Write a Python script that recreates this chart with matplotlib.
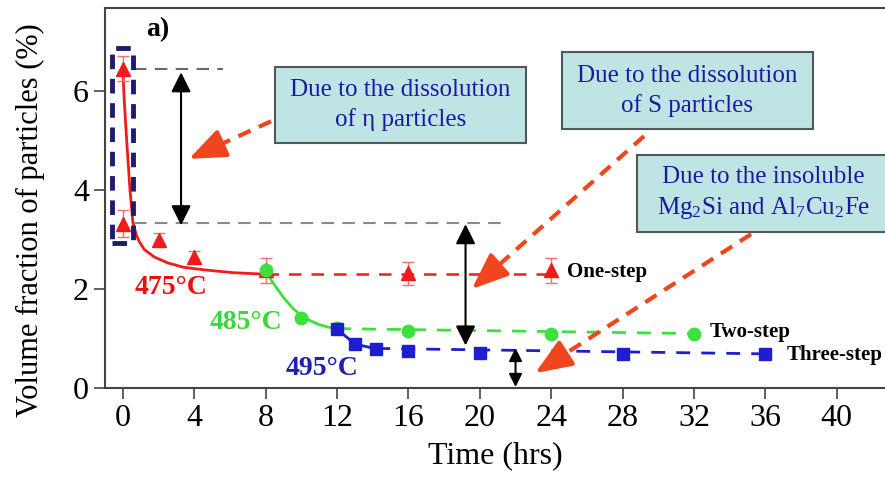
import matplotlib
matplotlib.use('Agg')
import matplotlib.pyplot as plt
from matplotlib.patches import Rectangle

plt.rcParams['font.family'] = ['Liberation Serif', 'DejaVu Serif']
plt.rcParams['mathtext.fontset'] = 'custom'
plt.rcParams['mathtext.rm'] = 'Liberation Serif'
plt.rcParams['mathtext.it'] = 'Liberation Serif:italic'

# measured points (one-step 475C, two-step 485C, three-step 495C)
red_t = [0, 0, 2, 4, 8, 16, 24]
red_y = [6.45, 3.32, 3.0, 2.65, 2.38, 2.32, 2.38]
red_err = [0.25, 0.27, 0.13, 0.12, 0.25, 0.23, 0.25]

green_t = [8, 10, 12, 16, 24, 32]
green_y = [2.38, 1.42, 1.21, 1.16, 1.09, 1.09]

blue_t = [12, 13, 14.2, 16, 20, 28, 36]
blue_y = [1.19, 0.89, 0.79, 0.75, 0.70, 0.69, 0.69]

# fitted curves
red_fit_t = [0, 0.08, 0.18, 0.28, 0.4, 0.56, 0.75, 0.9, 1.2, 1.75, 2.5, 3.4, 4.5, 6.2, 8.0]
red_fit_y = [6.45, 5.8, 5.2, 4.65, 4.0, 3.35, 3.1, 2.97, 2.8, 2.65, 2.53, 2.44, 2.39, 2.33, 2.3]
green_fit_t = [8, 8.5, 9, 9.5, 10, 10.5, 11, 11.5, 12]
green_fit_y = [2.36, 2.08, 1.83, 1.62, 1.46, 1.36, 1.28, 1.23, 1.2]
blue_fit_t = [12, 13, 14.2]
blue_fit_y = [1.19, 0.89, 0.79]

red_dash_t = [8, 24]
red_dash_y = [2.3, 2.3]
green_dash_t = [12, 32]
green_dash_y = [1.2, 1.1]
blue_dash_t = [14.2, 36]
blue_dash_y = [0.80, 0.69]

xticks = [0, 4, 8, 12, 16, 20, 24, 28, 32, 36, 40]
yticks = [0, 2, 4, 6]

RED = '#f01c1c'
GREEN = '#3ee03e'
BLUE = '#1e1ed0'
ORANGE = '#f0461e'
BOXC = '#bfe4e4'
TXTB = '#1a1aa0'

fig = plt.figure(figsize=(8.85, 4.91), dpi=100)
ax = fig.add_axes([105/885, 103/491, 780/885, 380/491])

# fits
ax.plot(red_fit_t, red_fit_y, '-', color=RED, lw=2)
ax.plot(green_fit_t, green_fit_y, '-', color=GREEN, lw=2)
ax.plot(blue_fit_t, blue_fit_y, '-', color=BLUE, lw=2)
ax.plot(red_dash_t, red_dash_y, '--', color=RED, lw=1.8, dashes=(5, 4))
ax.plot(green_dash_t, green_dash_y, '--', color=GREEN, lw=2, dashes=(5, 4))
ax.plot(blue_dash_t, blue_dash_y, '--', color=BLUE, lw=2, dashes=(5, 4))

# markers
ax.errorbar(red_t, red_y, yerr=red_err, fmt='^', color=RED, ms=10, capsize=4,
            elinewidth=1, ecolor='#f07070', zorder=4)
ax.plot(green_t, green_y, 'o', color=GREEN, ms=9, zorder=5)
ax.plot(blue_t, blue_y, 's', color=BLUE, ms=9, zorder=6)

# guide lines and box around t=0 points
ax.plot([0.6, 5.6], [6.45, 6.45], '--', color='#6a6a6a', lw=1.5, dashes=(6, 4))
ax.plot([0.6, 21.6], [3.33, 3.33], '--', color='#8a8a8a', lw=1.5, dashes=(6, 4))
ax.add_patch(Rectangle((-0.58, 2.93), 1.15, 3.94, fill=False, edgecolor='#1c1c70',
                       lw=3.5, linestyle=(0, (3, 2)), zorder=7))

# black double arrows
dbl = dict(arrowstyle='<|-|>,head_length=0.6,head_width=0.3', color='black', lw=1.5,
           mutation_scale=20, shrinkA=0, shrinkB=0)
ax.annotate('', xy=(3.26, 6.38), xytext=(3.26, 3.29), arrowprops=dbl)
ax.annotate('', xy=(19.2, 3.31), xytext=(19.2, 0.86), arrowprops=dbl)
small = dict(dbl, mutation_scale=13)
ax.annotate('', xy=(22.0, 0.81), xytext=(22.0, 0.02), arrowprops=small)

# info boxes
boxes = [((8.5, 4.95), 14.1, 1.53, 'Due to the dissolution\nof \u03b7 particles'),
         ((24.6, 5.23), 14.05, 1.56, 'Due to the dissolution\nof S particles'),
         ((28.8, 3.15), 14.2, 1.56, 'Due to the insoluble\nMg$_2$Si and Al$_7$Cu$_2$Fe')]
for (x0, y0), w, h, txt in boxes:
    ax.add_patch(Rectangle((x0, y0), w, h, facecolor=BOXC, edgecolor='#505858', lw=1.5, zorder=8))
    ax.text(x0 + w / 2, y0 + h / 2, txt, ha='center', va='center', fontsize=18,
            color=TXTB, linespacing=1.4, zorder=9)

# dashed orange arrows: dashed shaft + solid head
orange_arrows = [((8.3, 5.39), (3.7, 4.63)),
                 ((29.2, 5.09), (19.55, 2.0)),
                 ((35.2, 3.11), (23.1, 0.3))]
head = dict(arrowstyle='-|>,head_length=0.8,head_width=0.32', color=ORANGE, lw=3,
            mutation_scale=28, shrinkA=0, shrinkB=0)
for (x0, y0), (x1, y1) in orange_arrows:
    f = 0.88 if abs(x1 - x0) > 6 else 0.75
    xm, ym = x0 + f * (x1 - x0), y0 + f * (y1 - y0)
    ax.plot([x0, xm], [y0, ym], color=ORANGE, lw=3, dashes=(3.2, 2.2), zorder=10,
            solid_capstyle='butt', dash_capstyle='butt')
    ax.annotate('', xy=(x1, y1), xytext=(xm, ym), arrowprops=head, zorder=10)

# labels
ax.text(1.95, 7.25, 'a)', fontsize=20, fontweight='bold', ha='center', va='center')
ax.text(2.7, 2.04, '475\u00b0C', color='#e81010', fontsize=20, fontweight='bold', ha='center', va='center')
ax.text(6.9, 1.33, '485\u00b0C', color='#38d838', fontsize=20, fontweight='bold', ha='center', va='center')
ax.text(11.15, 0.4, '495\u00b0C', color='#2020b0', fontsize=20, fontweight='bold', ha='center', va='center')
ax.text(24.9, 2.34, 'One-step', fontsize=15, fontweight='bold', va='center')
ax.text(32.9, 1.13, 'Two-step', fontsize=15, fontweight='bold', va='center')
ax.text(37.2, 0.67, 'Three-step', fontsize=15, fontweight='bold', va='center')

ax.set_xlim(-1.0, 42.7)
ax.set_ylim(0, 7.68)
ax.set_xticks(xticks)
ax.set_yticks(yticks)
ax.tick_params(direction='out', length=8, width=1.2, labelsize=23, color='#444444')
ax.set_xlabel('Time (hrs)', fontsize=23, labelpad=6)
ax.set_ylabel('Volume fraction of particles (%)', fontsize=22)
ax.yaxis.set_label_coords(-0.077, 0.442)
for s in ['left', 'bottom', 'top']:
    ax.spines[s].set_color('#444444')
    ax.spines[s].set_linewidth(1.5)
ax.spines['right'].set_visible(False)

fig.savefig('out.png', dpi=100)
